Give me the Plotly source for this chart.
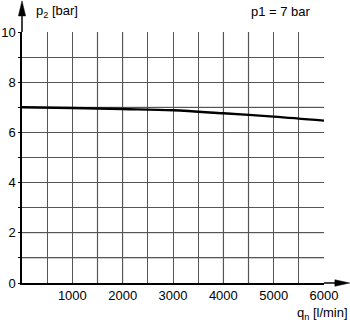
import plotly.graph_objects as go

flow = [0, 1000, 2000, 3000, 4000, 5000, 6000]
p2 = [7.0, 6.97, 6.93, 6.88, 6.76, 6.63, 6.47]

x_grid = [0, 500, 1000, 1500, 2000, 2500, 3000, 3500, 4000, 4500, 5000, 5500, 6000]
x_labels = ["", "", "1000", "", "2000", "", "3000", "", "4000", "", "5000", "", "6000"]
y_grid = [0, 1, 2, 3, 4, 5, 6, 7, 8, 9, 10]
y_labels = ["0", "", "2", "", "4", "", "6", "", "8", "", "10"]
light_x = [1500, 2000, 4000, 4500]
light_y = [1, 2, 7]

FONT = "Liberation Sans, Arial, sans-serif"

fig = go.Figure()
fig.add_trace(go.Scatter(x=flow, y=p2, mode="lines",
                         line=dict(color="black", width=2.4, shape="spline"),
                         showlegend=False, hoverinfo="skip"))

shapes = []
for xv in light_x:
    shapes.append(dict(type="line", xref="x", yref="y", x0=xv, x1=xv, y0=0, y1=10,
                       line=dict(color="#bdbdbd", width=1.5), layer="below"))
for yv in light_y:
    shapes.append(dict(type="line", xref="x", yref="y", x0=0, x1=6000, y0=yv, y1=yv,
                       line=dict(color="#bdbdbd", width=1.5), layer="below"))

# axis extensions with arrow heads (decoration, paper coordinates)
shapes += [
    dict(type="line", xref="paper", yref="paper", x0=0, x1=0, y0=1, y1=1.08,
         line=dict(color="black", width=1.5)),
    dict(type="path", xref="paper", yref="paper",
         path="M -0.012 1.064 L 0 1.124 L 0.012 1.064 Z",
         fillcolor="black", line=dict(color="black", width=0.5)),
    dict(type="line", xref="paper", yref="paper", x0=1, x1=1.05, y0=0, y1=0,
         line=dict(color="black", width=1.5)),
    dict(type="path", xref="paper", yref="paper",
         path="M 1.036 -0.013 L 1.085 0 L 1.036 0.013 Z",
         fillcolor="black", line=dict(color="black", width=0.5)),
]

fig.update_layout(
    width=350, height=327,
    margin=dict(l=22, r=26, t=32, b=44, autoexpand=False),
    paper_bgcolor="white", plot_bgcolor="white",
    font=dict(family=FONT, size=13, color="black"),
    shapes=shapes,
    xaxis=dict(range=[0, 6000], tickvals=x_grid, ticktext=x_labels,
               showgrid=True, gridcolor="#555555", gridwidth=1,
               zeroline=False, showline=True, linecolor="black", linewidth=1.5,
               ticks="", fixedrange=True, automargin=False),
    yaxis=dict(range=[0, 10], tickvals=y_grid, ticktext=y_labels,
               showgrid=True, gridcolor="#555555", gridwidth=1,
               zeroline=False, showline=True, linecolor="black", linewidth=1.5,
               ticks="outside", ticklen=2, tickcolor="black",
               fixedrange=True, automargin=False),
    annotations=[
        dict(xref="paper", yref="paper", x=0.04, y=1.08, xanchor="left", yanchor="middle",
             text="p<sub>2</sub> [bar]", showarrow=False, font=dict(size=13)),
        dict(xref="paper", yref="paper", x=0.965, y=1.08, xanchor="right", yanchor="middle",
             text="p1 = 7 bar", showarrow=False, font=dict(size=13)),
        dict(xref="paper", yref="paper", x=1.085, y=-0.12, xanchor="right", yanchor="middle",
             text="q<sub>n</sub> [l/min]", showarrow=False, font=dict(size=13)),
    ],
)

fig.write_html("out.html")
